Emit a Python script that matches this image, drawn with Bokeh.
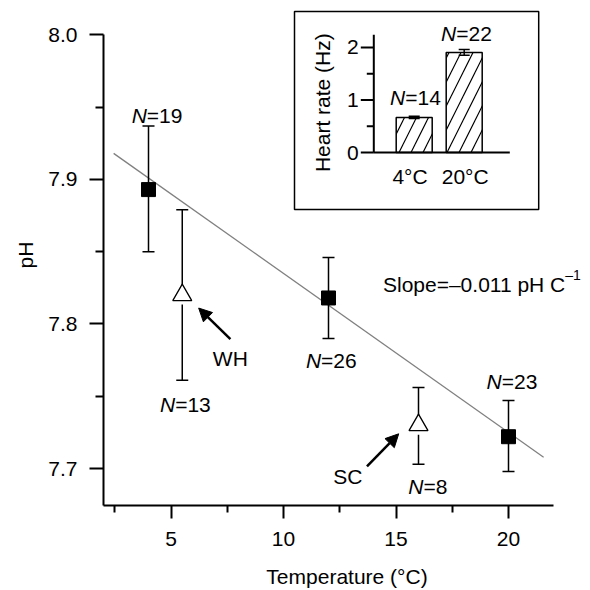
import numpy as np
from bokeh.plotting import figure
from bokeh.models import Range1d, FixedTicker, PrintfTickFormatter, Arrow, NormalHead
from bokeh.core.properties import value
from bokeh.embed import file_html
from bokeh.resources import INLINE

# ---------------- data ----------------
temps_sq = [4, 12, 20]
ph_sq = [7.893, 7.818, 7.722]
ph_sq_lo = [7.850, 7.790, 7.698]
ph_sq_hi = [7.937, 7.846, 7.747]
n_sq = ["19", "26", "23"]

temps_tri = [5.5, 16]
ph_tri = [7.820, 7.730]
ph_tri_lo = [7.761, 7.703]
ph_tri_hi = [7.879, 7.756]
n_tri = ["13", "8"]
tri_names = ["WH", "SC"]

fit_slope = -0.011
fit_intercept = 7.945
fit_x = [2.45, 21.56]
slope_text = "Slope=\u20130.011 pH C"
slope_sup = "\u20131"

x_ticks = [5, 10, 15, 20]
x_minor = [2.5, 7.5, 12.5, 17.5]
y_ticks = [7.7, 7.8, 7.9, 8.0]
y_minor = [7.75, 7.85, 7.95]

inset_cats = ["4\u00b0C", "20\u00b0C"]
inset_pos = [1, 2]
inset_rate = [0.67, 1.905]
inset_lo = [0.65, 1.85]
inset_hi = [0.69, 1.96]
inset_n = ["14", "22"]
inset_ticks = [0, 1, 2]
inset_minor = [0.5, 1.5]

# ---------------- layout constants ----------------
FONT = "Liberation Sans"
FSPX = 21
FS = f"{FSPX}px"
DY = -6  # baseline correction for text glyphs
W = H = 590
ML, MB, MT = 103, 81, 4
frame_w = W - ML
frame_h = H - MB - MT
px_x = 22.5
px_y = 1456.7
x0 = 2.0
x1 = x0 + frame_w / px_x
y1 = 8.0 + (34.7 - MT) / px_y
y0 = y1 - frame_h / px_y

# inset coordinate system (page pixels of the frame)
fr_left_pg, fr_right_pg, fr_top_pg, fr_bot_pg = float(ML), float(W), float(MT), float(H - MB)
ix_one_pg, ix_ppu = 413.7, 50.0
iy_zero_pg, iy_ppu = 153.3, 53.0
ix0 = 1 - (ix_one_pg - fr_left_pg) / ix_ppu
ix1 = 1 + (fr_right_pg - ix_one_pg) / ix_ppu
iy0 = -(fr_bot_pg - iy_zero_pg) / iy_ppu
iy1 = (iy_zero_pg - fr_top_pg) / iy_ppu

p = figure(width=W, height=H, x_range=Range1d(x0, x1), y_range=Range1d(y0, y1),
           output_backend="svg", toolbar_location=None,
           min_border_left=ML, min_border_right=0, min_border_top=MT, min_border_bottom=MB)
p.outline_line_color = None
p.grid.visible = False
p.background_fill_color = "white"
p.border_fill_color = "white"

p.extra_x_ranges = {"ix": Range1d(ix0, ix1)}
p.extra_y_ranges = {"iy": Range1d(iy0, iy1)}

for ax in (p.xaxis[0], p.yaxis[0]):
    ax.axis_line_width = 2
    ax.axis_line_color = "black"
    ax.major_tick_line_width = 2
    ax.minor_tick_line_width = 2
    ax.major_tick_in = 0
    ax.minor_tick_in = 0
    ax.major_label_text_font = FONT
    ax.major_label_text_font_size = FS
    ax.major_label_text_color = "black"
    ax.axis_label_text_font = FONT
    ax.axis_label_text_font_size = FS
    ax.axis_label_text_font_style = "normal"
    ax.axis_label_text_color = "black"

xa = p.xaxis[0]
xa.ticker = FixedTicker(ticks=x_ticks, minor_ticks=x_minor)
xa.bounds = (2, 22)
xa.major_tick_out = 13
xa.minor_tick_out = 7
xa.major_label_standoff = 13
xa.axis_label = "Temperature (\u00b0C)"
xa.axis_label_standoff = 16

ya = p.yaxis[0]
ya.ticker = FixedTicker(ticks=y_ticks, minor_ticks=y_minor)
ya.formatter = PrintfTickFormatter(format="%.1f")
ya.bounds = (y0, 8.0)
ya.major_tick_out = 14
ya.minor_tick_out = 8
ya.major_label_standoff = 12
ya.axis_label = "pH"
ya.axis_label_standoff = 8

TXT = dict(text_font=value(FONT), text_font_size=value(FS), text_color="black")

# regression line
p.line(fit_x, [fit_intercept + fit_slope * x for x in fit_x], line_color="#808080", line_width=1.3)

# error bars
p.segment(x0=temps_sq, y0=ph_sq_lo, x1=temps_sq, y1=ph_sq_hi, line_color="black", line_width=1.5)
p.segment(x0=temps_tri, y0=ph_tri_lo, x1=temps_tri, y1=ph_tri_hi, line_color="black", line_width=1.5)
p.scatter(x=temps_sq + temps_sq + temps_tri + temps_tri,
          y=ph_sq_lo + ph_sq_hi + ph_tri_lo + ph_tri_hi,
          marker="dash", size=12, line_color="black", line_width=1.5)

# small white gap below open triangles (as in the original)
p.rect(x=temps_tri, y=ph_tri, width=5, height=19, width_units="screen", height_units="screen",
       fill_color="white", line_color=None)

# points
p.scatter(x=temps_sq, y=ph_sq, marker="square", size=14, fill_color="black", line_color="black")
p.scatter(x=temps_tri, y=ph_tri, marker="triangle", size=19, fill_color="white",
          line_color="black", line_width=1.3)


def n_label(cx, by, num, **rk):
    w_n = 0.722 * FSPX
    w_rest = (0.584 + 0.556 * len(num)) * FSPX
    off = -(w_n + w_rest) / 2 + w_n
    p.text(x=[cx], y=[by], text=["N"], text_align="right", text_baseline="alphabetic",
           x_offset=off, y_offset=DY, text_font_style="italic", **TXT, **rk)
    p.text(x=[cx], y=[by], text=["=" + num], text_align="left", text_baseline="alphabetic",
           x_offset=off, y_offset=DY, **TXT, **rk)


# N labels for main plot (label anchor positions: centre x, baseline y)
sq_label_pos = [(4.38, 7.9401), (12.124, 7.7707), (20.156, 7.7558)]
tri_label_pos = [(5.64, 7.7401), (16.413, 7.6831)]
for (cx, by), n in zip(sq_label_pos, n_sq):
    n_label(cx, by, n)
for (cx, by), n in zip(tri_label_pos, n_tri):
    n_label(cx, by, n)

# WH / SC names and arrows
name_pos = [(7.636, 7.7719), (12.858, 7.6904)]
p.text(x=[q[0] for q in name_pos], y=[q[1] for q in name_pos], text=tri_names,
       text_align="center", text_baseline="alphabetic", y_offset=DY, **TXT)
arrows = [((7.64, 7.7895), (6.23, 7.811)), ((13.71, 7.7014), (15.12, 7.724))]
for (xs, ys), (xe, ye) in arrows:
    p.add_layout(Arrow(end=NormalHead(size=13, fill_color="black", line_color="black", line_width=1),
                       x_start=xs, y_start=ys, x_end=xe, y_end=ye,
                       line_color="black", line_width=2.5))

# slope text
slope_anchor = (22.524, 7.8229)
p.text(x=[slope_anchor[0]], y=[slope_anchor[1]], text=[slope_text], text_align="right",
       text_baseline="alphabetic", y_offset=DY, **TXT)
p.text(x=[slope_anchor[0]], y=[slope_anchor[1]], text=[slope_sup], text_align="left",
       text_baseline="alphabetic", y_offset=DY - 10, text_font=value(FONT),
       text_font_size=value("14px"), text_color="black")

# ---------------- inset ----------------
IR = dict(x_range_name="ix", y_range_name="iy")
p.quad(left=[-1.394], right=[3.49], bottom=[-1.083], top=[2.685], fill_color="white",
       line_color="black", line_width=1.5, **IR)
p.vbar(x=inset_pos, width=0.72, top=inset_rate, bottom=0, fill_color="white",
       line_color="black", line_width=1.5, hatch_pattern="/", hatch_color="black",
       hatch_scale=24, hatch_weight=1.2, **IR)
p.segment(x0=inset_pos, y0=inset_lo, x1=inset_pos, y1=inset_hi, line_color="black", line_width=1.5, **IR)
p.scatter(x=inset_pos + inset_pos, y=inset_lo + inset_hi, marker="dash", size=11,
          line_color="black", line_width=1.5, **IR)

iax = 0.192
iax_top = 2.24
iax_right = 2.912
p.segment(x0=[iax, iax], y0=[0, 0], x1=[iax, iax_right], y1=[iax_top, 0], line_color="black", line_width=2, **IR)
p.ray(x=[iax] * len(inset_ticks), y=inset_ticks, length=13, length_units="screen", angle=np.pi,
      line_color="black", line_width=2, **IR)
p.ray(x=[iax] * len(inset_minor), y=inset_minor, length=7, length_units="screen", angle=np.pi,
      line_color="black", line_width=2, **IR)
p.text(x=[iax] * len(inset_ticks), y=inset_ticks, text=[str(t) for t in inset_ticks],
       text_align="right", text_baseline="middle", x_offset=-15, **TXT, **IR)
p.text(x=[-0.84], y=[0.95], text=["Heart rate (Hz)"], angle=np.pi / 2, text_align="center",
       text_baseline="middle", **TXT, **IR)

cat_label_x = [0.916, 2.02]
p.text(x=cat_label_x, y=[-0.566] * 2, text=inset_cats, text_align="center",
       text_baseline="alphabetic", y_offset=DY, **TXT, **IR)
inset_n_pos = [(1.026, 0.93), (2.046, 2.15)]
for (cx, by), n in zip(inset_n_pos, inset_n):
    n_label(cx, by, n, **IR)

open("out.html", "w").write(file_html(p, INLINE))
